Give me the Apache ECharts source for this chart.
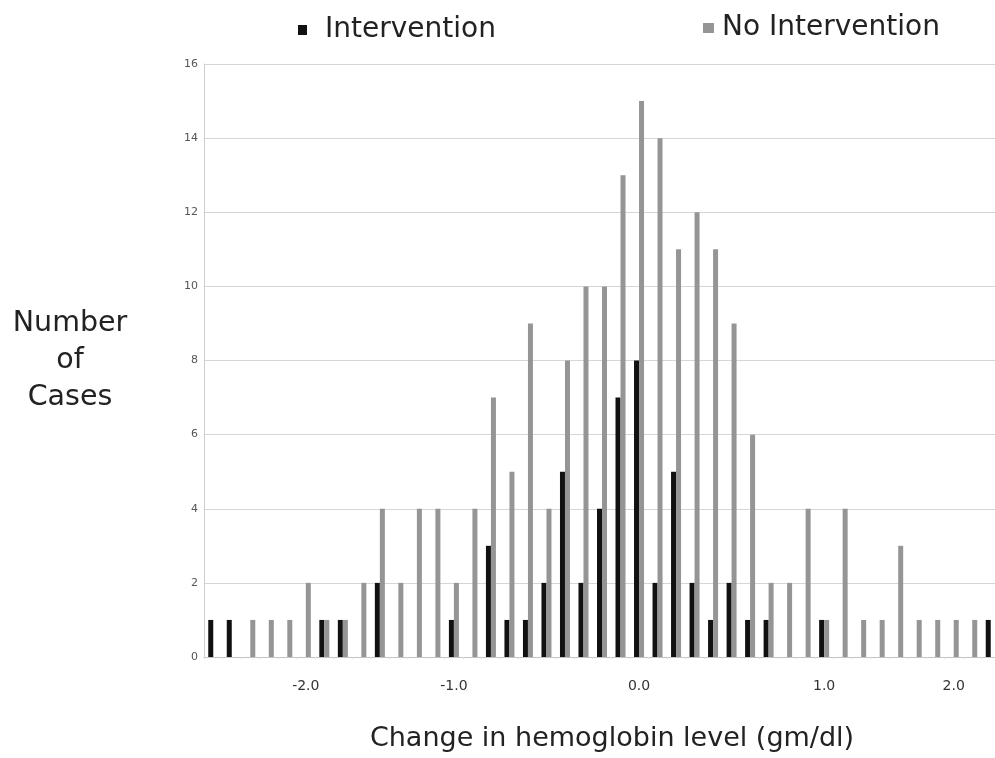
<!DOCTYPE html>
<html>
<head>
<meta charset="utf-8">
<script src="https://cdn.jsdelivr.net/npm/echarts@6/dist/echarts.min.js"></script>
<style>
html,body{margin:0;padding:0;background:#fff;}
#chart{width:995px;height:758px;}
</style>
</head>
<body>
<div id="chart"></div>
<script>
// Category tick labels (only some categories are labelled in the original)
const categories = ['', '', '', '', '', '-2.0', '', '', '', '', '', '', '', '-1.0', '', '', '', '', '', '', '', '', '', '0.0', '', '', '', '', '', '', '', '', '', '1.0', '', '', '', '', '', '', '2.0', '', ''];
const intervention = [1, 1, 0, 0, 0, 0, 1, 1, 0, 2, 0, 0, 0, 1, 0, 3, 1, 1, 2, 5, 2, 4, 7, 8, 2, 5, 2, 1, 2, 1, 1, 0, 0, 1, 0, 0, 0, 0, 0, 0, 0, 0, 1];
const noIntervention = [0, 0, 1, 1, 1, 2, 1, 1, 2, 4, 2, 4, 4, 2, 4, 7, 5, 9, 4, 8, 10, 10, 13, 15, 14, 11, 12, 11, 9, 6, 2, 2, 4, 1, 4, 1, 1, 3, 1, 1, 1, 1, 0];
const seriesNames = ['Intervention', 'No Intervention'];
const yTicks = { min: 0, max: 16, interval: 2 };

const chart = echarts.init(document.getElementById('chart'), null, { renderer: 'canvas' });
const font = 'DejaVu Sans';
chart.setOption({
  backgroundColor: '#ffffff',
  animation: false,
  legend: [
    {
      data: [seriesNames[0]], left: 298, top: 15, padding: 0,
      itemWidth: 9, itemHeight: 10, icon: 'rect',
      textStyle: { fontFamily: font, fontSize: 28, color: '#222', lineHeight: 30, padding: [0, 0, 0, 13] }
    },
    {
      data: [seriesNames[1]], left: 703, top: 13, padding: 0,
      itemWidth: 11, itemHeight: 10, icon: 'rect',
      textStyle: { fontFamily: font, fontSize: 28, color: '#222', lineHeight: 30, padding: [0, 0, 0, 3] }
    }
  ],
  grid: { left: 204, top: 64, bottom: 101, right: -5, containLabel: false, outerBoundsMode: 'none' },
  xAxis: {
    type: 'category',
    data: categories,
    boundaryGap: true,
    axisLine: { show: true, lineStyle: { color: '#c4c4c4', width: 1 } },
    axisTick: { show: true, length: 2, interval: 0, lineStyle: { color: '#dddddd' } },
    axisLabel: { interval: 0, margin: 22, fontFamily: font, fontSize: 14, color: '#333' },
    name: 'Change in hemoglobin level (gm/dl)',
    nameLocation: 'middle',
    nameGap: 68,
    nameTextStyle: { fontFamily: font, fontSize: 27, color: '#222', padding: [0, 0, 0, 20] }
  },
  yAxis: {
    type: 'value',
    min: yTicks.min, max: yTicks.max, interval: yTicks.interval,
    axisLine: { show: true, lineStyle: { color: '#cccccc' } },
    axisTick: { show: false },
    splitLine: { show: true, lineStyle: { color: '#d6d6d6', width: 1 } },
    axisLabel: { margin: 6, fontFamily: font, fontSize: 11, color: '#555' },
    name: 'Number\nof\nCases',
    nameLocation: 'middle',
    nameRotate: 0,
    nameGap: 134,
    nameTextStyle: { fontFamily: font, fontSize: 28.5, color: '#222', align: 'center', verticalAlign: 'middle', lineHeight: 37, padding: [8, 0, 0, 0] }
  },
  series: [
    {
      name: seriesNames[0], type: 'bar', data: intervention,
      barWidth: 5, barGap: '0%',
      itemStyle: { color: '#111111' }
    },
    {
      name: seriesNames[1], type: 'bar', data: noIntervention,
      barWidth: 5, barGap: '0%',
      itemStyle: { color: '#959595' }
    }
  ]
});
</script>
</body>
</html>
